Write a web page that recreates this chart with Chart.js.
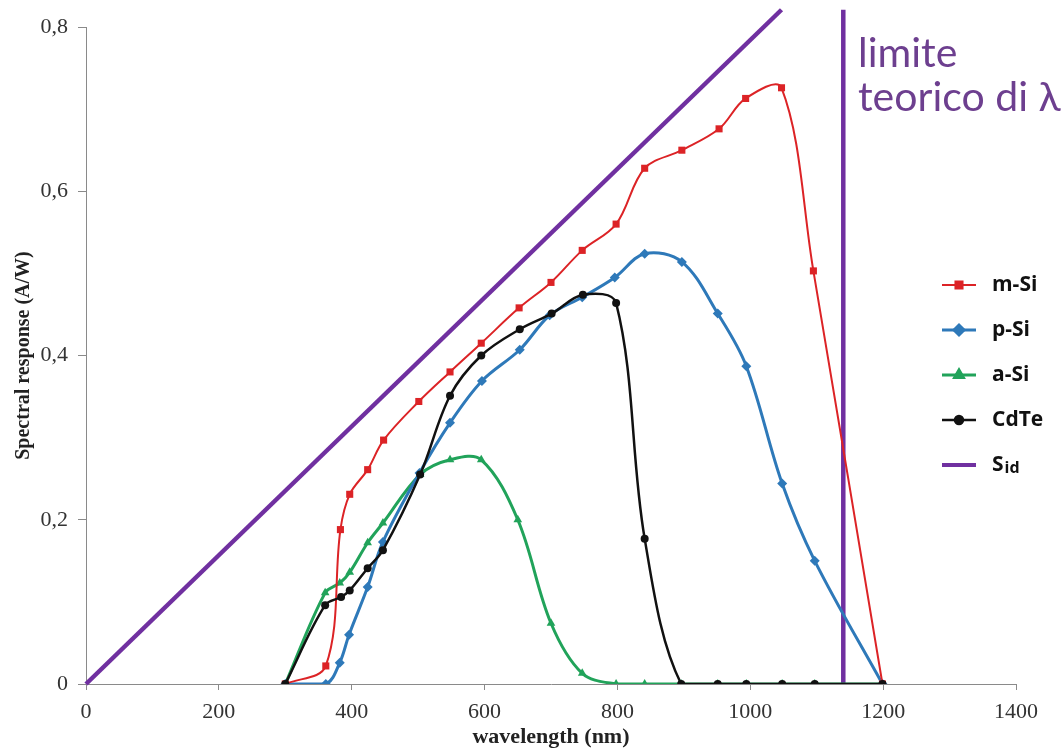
<!DOCTYPE html>
<html>
<head>
<meta charset="utf-8">
<style>
    body { margin: 0; background: #fff; }
    canvas { display: block; }
</style>
</head>
<body>
<canvas id="srChart" width="1064" height="754"></canvas>
<script src="https://cdn.jsdelivr.net/npm/chart.js"></script>
<script>
    // wavelengths (nm) and spectral response (A/W)
    const wlMSi = [300, 361, 383, 397, 424, 448, 501, 548, 595, 652, 700, 747, 798, 841, 897, 953, 993, 1047, 1095, 1199];
    const mSi = [0, 0.022, 0.188, 0.231, 0.261, 0.297, 0.344, 0.380, 0.415, 0.458, 0.489, 0.528, 0.560, 0.628, 0.650, 0.676, 0.713, 0.726, 0.503, 0];

    const wlPSi = [300, 361, 382, 396, 424, 447, 502, 548, 596, 653, 698, 747, 796, 841, 897, 951, 994, 1048, 1097, 1199];
    const pSi = [0, 0, 0.026, 0.060, 0.118, 0.173, 0.257, 0.318, 0.369, 0.407, 0.449, 0.471, 0.495, 0.524, 0.514, 0.451, 0.387, 0.244, 0.150, 0];

    const wlASi = [300, 360, 382, 397, 424, 447, 503, 548, 595, 650, 700, 747, 798, 841, 896, 951, 994, 1048, 1097, 1199];
    const aSi = [0, 0.111, 0.123, 0.136, 0.172, 0.196, 0.255, 0.273, 0.273, 0.200, 0.074, 0.013, 0, 0, 0, 0, 0, 0, 0, 0];

    const wlCdTe = [300, 360, 384, 397, 424, 447, 503, 548, 595, 653, 701, 748, 798, 841, 896, 951, 994, 1048, 1097, 1199];
    const cdTe = [0, 0.096, 0.106, 0.114, 0.141, 0.163, 0.255, 0.351, 0.400, 0.432, 0.451, 0.474, 0.464, 0.177, 0, 0, 0, 0, 0, 0];

    // ideal response and theoretical wavelength limit
    const wlSid = [0, 1047];
    const sid = [0, 0.821];
    const wlLimit = [1140, 1140];
    const limit = [0, 0.821];

    const xTicks = [0, 200, 400, 600, 800, 1000, 1200, 1400];
    const yTicks = ['0', '0,2', '0,4', '0,6', '0,8'];

    const pts = (xs, ys) => xs.map((x, i) => ({x: x, y: ys[i]}));

    const purple = '#7030a0';

    // legend + "limite teorico" note drawn by hand, like the original
    const sideLegend = {
        id: 'sideLegend',
        afterDraw(chart) {
            const ctx = chart.ctx;
            ctx.save();
            chart.data.datasets.slice(0, 5).forEach((ds, i) => {
                const y = 285 + i * 45;
                ctx.strokeStyle = ds.borderColor;
                ctx.lineWidth = Math.min(ds.borderWidth, 4);
                ctx.beginPath();
                ctx.moveTo(942, y);
                ctx.lineTo(976, y);
                ctx.stroke();
                if (ds.pointRadius > 0) {
                    ctx.fillStyle = ds.pointBackgroundColor;
                    ctx.strokeStyle = ds.borderColor;
                    Chart.helpers.drawPoint(ctx, {pointStyle: ds.pointStyle, radius: ds.pointRadius, rotation: 0, borderWidth: 1}, 959, y);
                }
                ctx.fillStyle = '#111';
                ctx.textBaseline = 'middle';
                ctx.textAlign = 'left';
                if (ds.label === 'Sid') {
                    ctx.font = 'bold 21px "Open Sans"';
                    ctx.fillText('S', 992, y);
                    const w = ctx.measureText('S').width;
                    ctx.font = 'bold 16px "Open Sans"';
                    ctx.fillText('id', 992 + w + 1, y + 3);
                } else {
                    ctx.font = 'bold 21px "Open Sans"';
                    ctx.fillText(ds.label, 992, y);
                }
            });
            ctx.fillStyle = '#6d3f8f';
            ctx.textBaseline = 'alphabetic';
            ctx.font = '41px Lato';
            ctx.fillText('limite', 858, 67);
            ctx.fillText('teorico di λ', 858, 111);
            ctx.restore();
        }
    };

    new Chart(document.getElementById('srChart'), {
        type: 'line',
        data: {
            datasets: [
                {
                    label: 'm-Si', data: pts(wlMSi, mSi),
                    borderColor: '#dc2326', backgroundColor: '#dc2326', pointBackgroundColor: '#dc2326',
                    borderWidth: 2, pointStyle: 'rect', pointRadius: 5, pointBorderWidth: 0,
                    tension: 0.35, order: 1
                },
                {
                    label: 'p-Si', data: pts(wlPSi, pSi),
                    borderColor: '#2e79b9', backgroundColor: '#2e79b9', pointBackgroundColor: '#2e79b9',
                    borderWidth: 3, pointStyle: 'rectRot', pointRadius: 5, pointBorderWidth: 0,
                    tension: 0.35, order: 2
                },
                {
                    label: 'a-Si', data: pts(wlASi, aSi),
                    borderColor: '#21a35a', backgroundColor: '#21a35a', pointBackgroundColor: '#21a35a',
                    borderWidth: 3, pointStyle: 'triangle', pointRadius: 5, pointBorderWidth: 0,
                    tension: 0.35, order: 3
                },
                {
                    label: 'CdTe', data: pts(wlCdTe, cdTe),
                    borderColor: '#111111', backgroundColor: '#111111', pointBackgroundColor: '#111111',
                    borderWidth: 2.5, pointStyle: 'circle', pointRadius: 4, pointBorderWidth: 0,
                    tension: 0.35, order: 0
                },
                {
                    label: 'Sid', data: pts(wlSid, sid),
                    borderColor: purple, backgroundColor: purple, pointBackgroundColor: purple,
                    borderWidth: 4.5, pointRadius: 0, tension: 0, clip: false, order: 4
                },
                {
                    label: 'limit', data: pts(wlLimit, limit),
                    borderColor: purple, backgroundColor: purple,
                    borderWidth: 4.5, pointRadius: 0, tension: 0, clip: false, order: 5
                }
            ]
        },
        options: {
            responsive: false,
            animation: false,
            layout: { padding: { top: 27, right: 48, left: 0, bottom: 0 } },
            plugins: { legend: { display: false }, tooltip: { enabled: false } },
            scales: {
                x: {
                    type: 'linear', min: 0, max: 1400,
                    afterBuildTicks: s => { s.ticks = xTicks.map(v => ({value: v})); },
                    afterFit: s => { s.height = 70; },
                    border: { color: '#8a8a8a', width: 1 },
                    grid: { drawOnChartArea: false, tickLength: 6, color: '#8a8a8a' },
                    ticks: { padding: 9, color: '#333', font: { family: '"Liberation Serif"', size: 22 }, callback: v => String(v), maxRotation: 0 },
                    title: { display: true, text: 'wavelength (nm)', color: '#222', padding: { bottom: 3, top: 0 },
                        font: { family: '"Liberation Serif"', size: 22, weight: 'bold' } }
                },
                y: {
                    type: 'linear', min: 0, max: 0.8,
                    afterBuildTicks: s => { s.ticks = yTicks.map((t, i) => ({value: i * 0.2})); },
                    afterFit: s => { s.width = 86; },
                    border: { color: '#8a8a8a', width: 1 },
                    grid: { drawOnChartArea: false, tickLength: 8, color: '#8a8a8a' },
                    ticks: { padding: 10, color: '#333', font: { family: '"Liberation Serif"', size: 22 }, callback: (v, i) => yTicks[i] },
                    title: { display: true, text: 'Spectral response (A/W)', color: '#222', padding: { top: 12, bottom: 0 },
                        font: { family: '"Liberation Serif"', size: 20, weight: 'bold' } }
                }
            }
        },
        plugins: [sideLegend]
    });
</script>
</body>
</html>
